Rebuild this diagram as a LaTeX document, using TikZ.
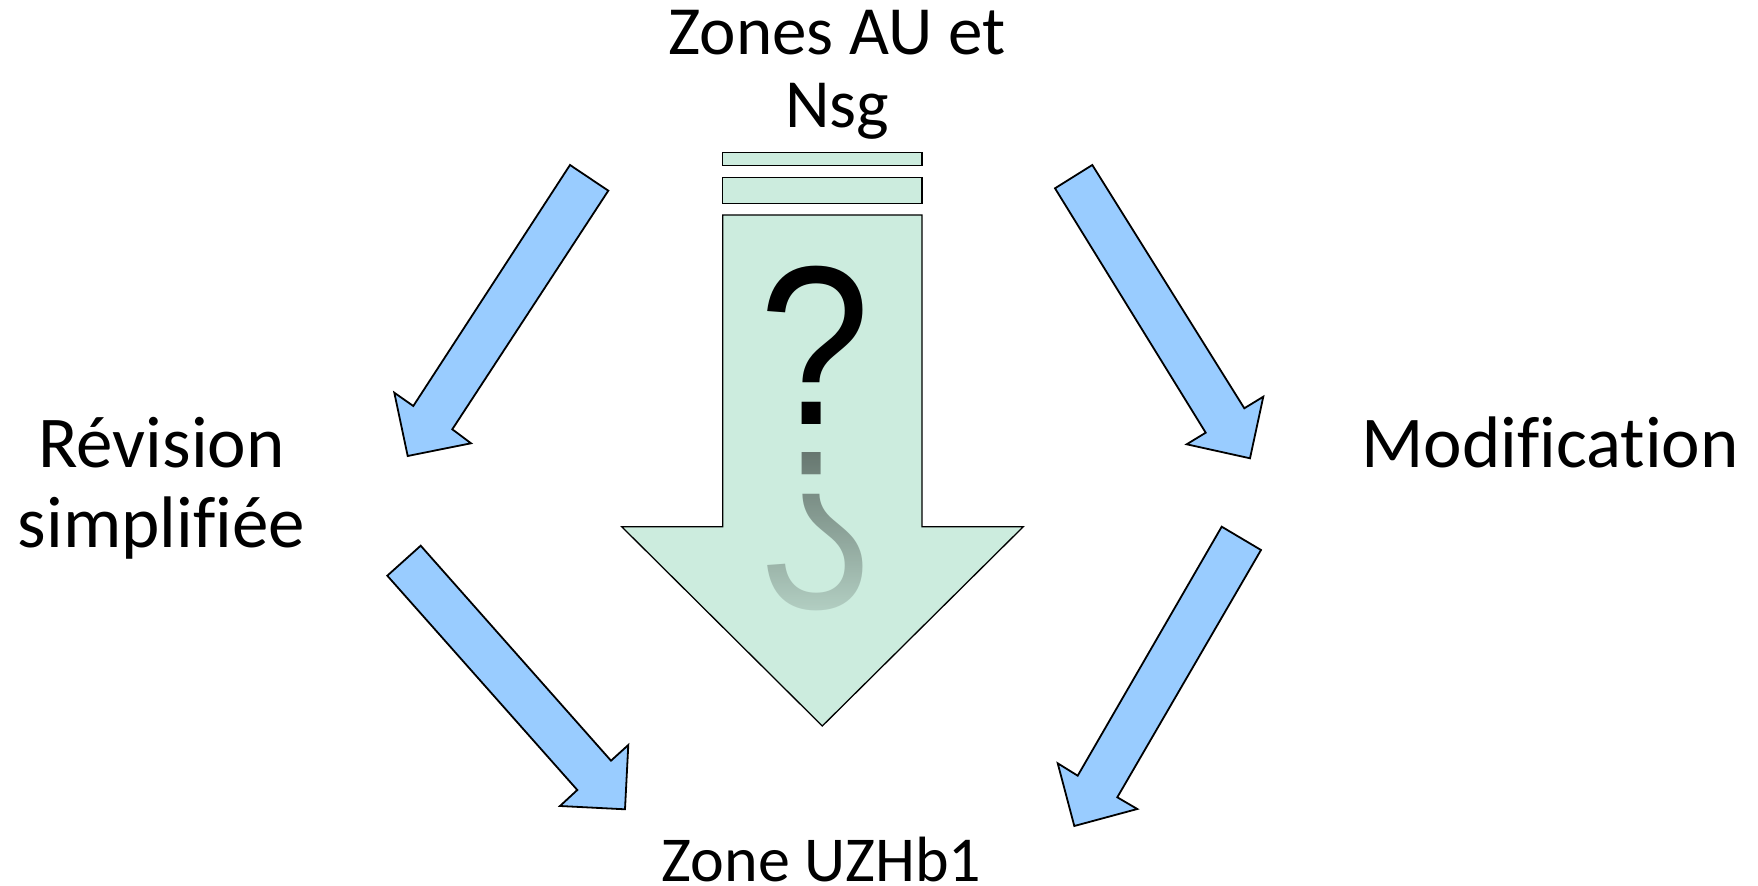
\documentclass[tikz,border=0pt]{standalone}
\usepackage{fontspec}
\setmainfont{Carlito}[Ligatures=NoCommon]
\newfontfamily\qfont{Liberation Sans}
\usetikzlibrary{positioning, fadings}

\definecolor{mintfill}{RGB}{204,236,222}
\definecolor{bluefill}{RGB}{153,204,255}
\tikzfading[name=fadeqdown, top color=transparent!100, bottom color=transparent!22]

\tikzset{
  txtlabel/.style={font=\fontsize{34.5pt}{36.5pt}\selectfont, align=center, inner sep=0pt, anchor=base},
  bigtxt/.style={txtlabel, font=\fontsize{36.5pt}{40pt}\selectfont},
  smalltxt/.style={txtlabel, font=\fontsize{32pt}{36pt}\selectfont},
  qlabel/.style={font=\qfont\fontsize{106pt}{106pt}\selectfont, inner sep=0pt, anchor=base, transform shape},
  bluearrow/.style={fill=bluefill, draw=black, line width=0.9pt},
  mintshape/.style={fill=mintfill, draw=black, line width=0.65pt}
}

\begin{document}
\begin{tikzpicture}[x=0.5pt, y=-0.5pt]
    \useasboundingbox (0,0) rectangle (1758,886);

    % big arrow in the middle
    \draw[mintshape] (722.7,152.7) rectangle (922,165.3);
    \draw[mintshape] (722.7,177.7) rectangle (922,203.3);
    \draw[mintshape] (722.7,215) -- (922,215) -- (922,526.7) -- (1023.3,526.7)
        -- (822.3,726) -- (621.7,526.7) -- (722.7,526.7) -- cycle;
    \node[qlabel, xscale=0.94, yscale=1.07] (qmark) at (814.5,424.3) {?};
    \node[qlabel, text opacity=0.5, xscale=0.94, yscale=-1.07] (qmirror) at (814.5,452.7) {?};
    \fill[mintfill, path fading=fadeqdown] (755,448) rectangle (880,616);

    % texts
    \node[txtlabel] (zonesau) at (837,128) {Zones AU et\\Nsg};
    \node[bigtxt] (revision) at (161.5,548) {Révision\\simplifiée};
    \node[bigtxt] (modif) at (1550,467.7) {Modification};
    \node[smalltxt] (uzhb) at (821.5,882) {Zone UZHb1};

    % blue arrows
    \draw[bluearrow] (570,165) -- (608.3,190.7) -- (452.3,429.3) -- (471,443.3)
        -- (407.7,456) -- (394.3,392.7) -- (413.3,406) -- cycle;
    \draw[bluearrow] (1092.3,165) -- (1055,188.3) -- (1205.7,432.7) -- (1186.7,444.3)
        -- (1250,458.3) -- (1263.3,396.7) -- (1244.3,408.3) -- cycle;
    \draw[bluearrow] (420.7,545.7) -- (387.3,575.7) -- (577.3,790) -- (560,806)
        -- (625,809.3) -- (628.3,745) -- (611,760.7) -- cycle;
    \draw[bluearrow] (1221.7,526.7) -- (1261,550) -- (1117.3,797.3) -- (1137.3,809)
        -- (1074.3,826) -- (1057.7,763.3) -- (1077.7,775.7) -- cycle;
\end{tikzpicture}
\end{document}
